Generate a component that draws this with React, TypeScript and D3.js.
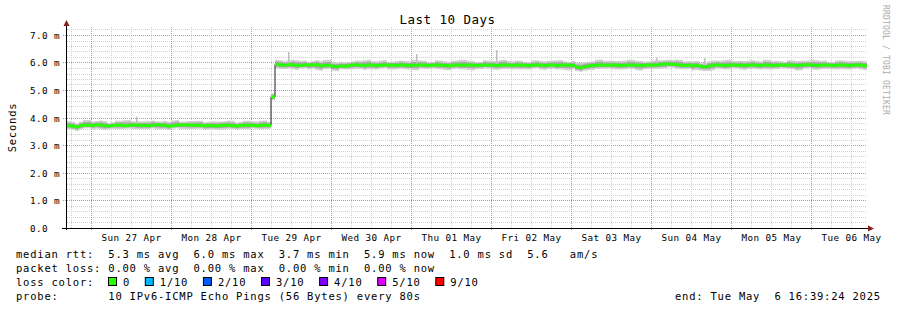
import React from 'react';
import * as d3 from 'd3';

// ---------- data ----------
const END_TIME = Date.UTC(2025, 4, 6, 16, 39, 24);
const SPAN_DAYS = 10;
const STEP_MINUTES = 72; // one median sample per 72 minutes

// median rtt in ms, one per 72-minute step
const medianRtt = [
  3.72, 3.70, 3.68, 3.73, 3.74, 3.74, 3.73, 3.75, 3.74, 3.72,
  3.71, 3.73, 3.74, 3.74, 3.72, 3.73, 3.75, 3.74, 3.73, 3.73,
  3.72, 3.74, 3.75, 3.74, 3.73, 3.70, 3.72, 3.74, 3.75, 3.75,
  3.74, 3.74, 3.73, 3.73, 3.72, 3.73, 3.72, 3.71, 3.73, 3.74,
  3.73, 3.72, 3.71, 3.73, 3.74, 3.74, 3.73, 3.72, 3.73, 3.74,
  3.73, 4.77,
  5.95, 5.93, 5.92, 5.94, 5.93, 5.91, 5.92, 5.93,
  5.92, 5.94, 5.93, 5.90, 5.91, 5.92, 5.88, 5.87, 5.89, 5.88,
  5.91, 5.93, 5.93, 5.92, 5.91, 5.93, 5.92, 5.91, 5.92, 5.93,
  5.92, 5.92, 5.91, 5.93, 5.92, 5.91, 5.92, 5.92, 5.93, 5.92,
  5.91, 5.92, 5.93, 5.92, 5.91, 5.90, 5.92, 5.93, 5.92, 5.92,
  5.93, 5.92, 5.91, 5.92, 5.93, 5.92, 5.92, 5.91, 5.92, 5.93,
  5.92, 5.91, 5.93, 5.92, 5.92, 5.91, 5.92, 5.93, 5.92, 5.91,
  5.92, 5.93, 5.91, 5.92, 5.93, 5.92, 5.91, 5.85, 5.83, 5.87,
  5.90, 5.91, 5.92, 5.93, 5.92, 5.92, 5.93, 5.92, 5.91, 5.92,
  5.93, 5.92, 5.92, 5.91, 5.92, 5.93, 5.92, 5.93, 5.95, 5.96,
  5.96, 5.95, 5.94, 5.92, 5.91, 5.92, 5.90, 5.91, 5.88, 5.86,
  5.89, 5.92, 5.93, 5.92, 5.91, 5.92, 5.93, 5.92, 5.92, 5.91,
  5.92, 5.93, 5.92, 5.91, 5.93, 5.92, 5.91, 5.92, 5.93, 5.92,
  5.93, 5.92, 5.91, 5.92, 5.93, 5.94, 5.92, 5.91, 5.92, 5.93,
  5.92, 5.91, 5.92, 5.93, 5.92, 5.91, 5.92, 5.93, 5.92, 5.90,
];

// smoke: spread above / below the median (ms), one per two median steps
const smokeUp = [
  0.16, 0.13, 0.19, 0.14, 0.17, 0.12, 0.16, 0.20, 0.13, 0.15,
  0.17, 0.13, 0.16, 0.19, 0.12, 0.15, 0.17, 0.13, 0.16, 0.14,
  0.18, 0.13, 0.16, 0.15, 0.17, 0.13,
  0.17, 0.15, 0.19, 0.16, 0.13, 0.17, 0.20, 0.15, 0.16, 0.13,
  0.16, 0.19, 0.15, 0.17, 0.13, 0.16, 0.15, 0.19, 0.16, 0.13,
  0.17, 0.15, 0.16, 0.20, 0.15, 0.13, 0.17, 0.16, 0.19, 0.15,
  0.16, 0.13, 0.17, 0.15, 0.16, 0.19, 0.13, 0.16, 0.17, 0.15,
  0.20, 0.16, 0.15, 0.17, 0.19, 0.16, 0.13, 0.17, 0.15, 0.16,
  0.19, 0.15, 0.16, 0.13, 0.17, 0.16, 0.20, 0.15, 0.16, 0.17,
  0.15, 0.19, 0.16, 0.13, 0.17, 0.16, 0.15, 0.19, 0.16, 0.13,
  0.17, 0.16, 0.15, 0.16,
];
const smokeDown = [
  0.13, 0.15, 0.11, 0.14, 0.16, 0.12, 0.14, 0.11, 0.15, 0.14,
  0.12, 0.16, 0.14, 0.11, 0.15, 0.14, 0.12, 0.15, 0.14, 0.16,
  0.12, 0.14, 0.15, 0.11, 0.14, 0.12,
  0.15, 0.14, 0.16, 0.12, 0.15, 0.18, 0.14, 0.16, 0.12, 0.15,
  0.14, 0.16, 0.15, 0.12, 0.16, 0.14, 0.15, 0.18, 0.14, 0.12,
  0.15, 0.16, 0.14, 0.15, 0.18, 0.14, 0.12, 0.16, 0.15, 0.14,
  0.16, 0.15, 0.12, 0.16, 0.14, 0.15, 0.18, 0.14, 0.15, 0.16,
  0.14, 0.12, 0.16, 0.15, 0.14, 0.18, 0.15, 0.14, 0.16, 0.12,
  0.15, 0.14, 0.16, 0.15, 0.18, 0.14, 0.15, 0.12, 0.16, 0.14,
  0.15, 0.16, 0.14, 0.12, 0.15, 0.18, 0.14, 0.16, 0.15, 0.14,
  0.16, 0.15, 0.14, 0.15,
];

// single-ping outliers: [step index, max rtt ms]
const spikes: [number, number][] = [
  [17, 4.05], [55, 6.40], [87, 6.33], [107, 6.47], [147, 6.19], [159, 6.18],
];

const yMajorTicks = [0, 1, 2, 3, 4, 5, 6, 7];
const yTickLabels = ['0.0', '1.0 m', '2.0 m', '3.0 m', '4.0 m', '5.0 m', '6.0 m', '7.0 m'];
const Y_MAX = 7.3;

const rttStats = ['5.3', '6.0', '3.7', '5.9'];
const rttSd = '1.0';
const rttAmS = '5.6';
const lossStats = ['0.00', '0.00', '0.00', '0.00'];
const lossLabels = ['0', '1/10', '2/10', '3/10', '4/10', '5/10', '9/10'];
const lossColors = ['#26ff00', '#00b8ff', '#0059ff', '#5e00ff', '#7e00ff', '#dd00ff', '#ff0000'];
const probeText = '10 IPv6-ICMP Echo Pings (56 Bytes) every 80s';
const endText = 'end: Tue May  6 16:39:24 2025';
const titleText = 'Last 10 Days';

// ---------- component ----------
const MONO = '"DejaVu Sans Mono", monospace';
const pre = (s: string) => s.replace(/ /g, '\u00a0');

export default function App() {
  const W = 897, H = 310;
  const L = 67, R = 867, B = 228, T = 27.25;
  const start = END_TIME - SPAN_DAYS * 86400000;
  const x = d3.scaleUtc().domain([start, END_TIME]).range([L, R]);
  const y = d3.scaleLinear().domain([0, Y_MAX]).range([B, T]);
  const stepMs = STEP_MINUTES * 60000;
  const tAt = (i: number) => start + i * stepMs;
  const crispY = (v: number) => Math.floor(y(v)) + 0.5;
  const crispX = (t: number) => Math.floor(x(t)) + 0.5;
  const GT = 27; // integer top for crisp dotted lines

  const pts = medianRtt.map((m, i) => ({
    t: tAt(i), m, up: smokeUp[Math.floor(i / 2)], dn: smokeDown[Math.floor(i / 2)],
  }));
  const last = pts[pts.length - 1];
  const ptsExt = [...pts, { ...last, t: END_TIME }];

  const outerArea = d3.area<any>()
    .x(d => x(d.t)).y0(d => y(d.m - d.dn)).y1(d => y(d.m + d.up))
    .curve(d3.curveStepAfter);
  const innerArea = d3.area<any>()
    .x(d => x(d.t)).y0(d => y(d.m - d.dn * 0.6)).y1(d => y(d.m + d.up * 0.6))
    .curve(d3.curveStepAfter);
  const medLine = d3.line<any>().x(d => x(d.t)).y(d => y(d.m)).curve(d3.curveStepAfter);

  // grid
  const minorY = d3.range(1, Math.floor(Y_MAX / 0.2) + 1).map(k => +(k * 0.2).toFixed(1))
    .filter(v => Math.abs(v - Math.round(v)) > 1e-6);
  const majorY = yMajorTicks.filter(v => v > 0);
  const hours6 = d3.utcHour.every(6)!.range(new Date(start), new Date(END_TIME));
  const minorX = hours6.filter(d => d.getUTCHours() !== 0);
  const majorX = hours6.filter(d => d.getUTCHours() === 0);
  const dayLabels = d3.utcDay.range(new Date(start), new Date(END_TIME))
    .map(d => ({ t: d.getTime() + 12 * 3600000, label: d3.utcFormat('%a %d %b')(d) }))
    .filter(d => d.t > start && d.t < END_TIME);

  const rttLine = `median rtt:  ${rttStats[0]} ms avg  ${rttStats[1]} ms max  ${rttStats[2]} ms min  ${rttStats[3]} ms now  ${rttSd} ms sd  ${rttAmS}   am/s`;
  const lossLine = `packet loss: ${lossStats[0]} % avg  ${lossStats[1]} % max  ${lossStats[2]} % min  ${lossStats[3]} % now`;

  const CH = 7.1; // legend char advance
  const LFS = 10.5;
  const legendStyle: React.CSSProperties = { fontFamily: MONO, fontSize: LFS, letterSpacing: CH - LFS * 0.602 };
  const AFS = 9.3;
  const axisStyle: React.CSSProperties = { fontFamily: MONO, fontSize: AFS, letterSpacing: 6 - AFS * 0.602 };
  // loss color legend layout
  const lossItems: { sx: number; lx: number; label: string; color: string }[] = [];
  let px = 108;
  lossLabels.forEach((lab, k) => {
    lossItems.push({ sx: px, lx: px + 15, label: lab, color: lossColors[k] });
    px = px + 15 + lab.length * CH + 14.7;
  });

  return (
    <svg width={W} height={H} style={{ position: 'absolute', left: 0, top: 0, background: '#fff' }}>
      <rect x={0} y={0} width={W} height={H} fill="#ffffff" />
      {/* minor grid */}
      <g stroke="#d0d0d0" strokeWidth={1} strokeDasharray="1,1" shapeRendering="crispEdges">
        {minorY.map(v => <line key={'hy' + v} x1={L} x2={R} y1={crispY(v)} y2={crispY(v)} />)}
        {minorX.map(d => <line key={'vx' + d.getTime()} x1={crispX(d.getTime())} x2={crispX(d.getTime())} y1={GT} y2={B} />)}
      </g>
      {/* major grid */}
      <g stroke="#f08080" strokeWidth={1} strokeDasharray="1,1" shapeRendering="crispEdges">
        {majorY.map(v => <line key={'my' + v} x1={L - 4} x2={R} y1={crispY(v)} y2={crispY(v)} />)}
        {majorX.map(d => <line key={'mx' + d.getTime()} x1={crispX(d.getTime())} x2={crispX(d.getTime())} y1={GT} y2={B + 2} />)}
      </g>

      {/* smoke */}
      <path d={outerArea(ptsExt) || ''} fill="#d0d0d0" />
      <path d={innerArea(ptsExt) || ''} fill="#a6a6a6" />
      {spikes.map(([i, v]) => (
        <rect key={'sp' + i} x={Math.floor(x(tAt(i))) + 1} width={1.5} y={y(v)} height={y(medianRtt[i]) - y(v)} fill="#bdbdbd" />
      ))}

      {/* median line and loss colour */}
      <path d={medLine(ptsExt) || ''} fill="none" stroke="#202020" strokeWidth={1} />
      {pts.map((d, i) => (
        <rect key={'g' + i} x={x(d.t)} width={x(i + 1 < pts.length ? pts[i + 1].t : END_TIME) - x(d.t)}
          y={y(d.m) - 1.5} height={3} fill={lossColors[0]} />
      ))}

      {/* axes */}
      <line x1={62} x2={870} y1={B + 0.5} y2={B + 0.5} stroke="#000" strokeWidth={1} />
      <line x1={66.5} x2={66.5} y1={B + 2} y2={24} stroke="#000" strokeWidth={1} />
      <polygon points="63.5,26 69.5,26 66.5,20" fill="#8b1c1c" />
      <polygon points="868,225.5 868,231.5 874,228.5" fill="#8b1c1c" />

      {/* y labels */}
      <g style={axisStyle} fill="#000">
        {yMajorTicks.map((v, k) => (
          <text key={'yl' + v} x={30} y={Math.floor(y(v)) + 3.5}>{pre(yTickLabels[k])}</text>
        ))}
      </g>
      {/* x labels */}
      <g style={axisStyle} fill="#000">
        {dayLabels.map(d => (
          <text key={'xl' + d.t} x={x(d.t)} y={241} textAnchor="middle">{pre(d.label)}</text>
        ))}
      </g>

      {/* title */}
      <text x={447.5} y={24} textAnchor="middle" style={{ fontFamily: MONO, fontSize: 12.5, letterSpacing: 8 - 12.5 * 0.602 }} fill="#000">{pre(titleText)}</text>
      {/* vertical axis title */}
      <text transform="translate(16,127.5) rotate(-90)" textAnchor="middle" style={legendStyle} fill="#000">Seconds</text>
      {/* watermark */}
      <text transform="translate(883,5) rotate(90)" style={{ fontFamily: MONO, fontSize: 8, letterSpacing: 5 - 8 * 0.602 }} fill="#aaaaaa">{pre('RRDTOOL / TOBI OETIKER')}</text>

      {/* legend */}
      <g fill="#000" style={legendStyle}>
        <text x={16} y={258}>{pre(rttLine)}</text>
        <text x={16} y={272}>{pre(lossLine)}</text>
        <text x={16} y={286}>{pre('loss color:')}</text>
        {lossItems.map(it => (
          <text key={'lt' + it.label} x={it.lx} y={286}>{it.label}</text>
        ))}
        <text x={16} y={300}>{pre('probe:       ' + probeText)}</text>
        <text x={675} y={300}>{pre(endText)}</text>
      </g>
      {lossItems.map(it => (
        <rect key={'ls' + it.label} x={it.sx + 0.5} y={277.5} width={8} height={8} fill={it.color} stroke="#000" strokeWidth={1} />
      ))}
    </svg>
  );
}
